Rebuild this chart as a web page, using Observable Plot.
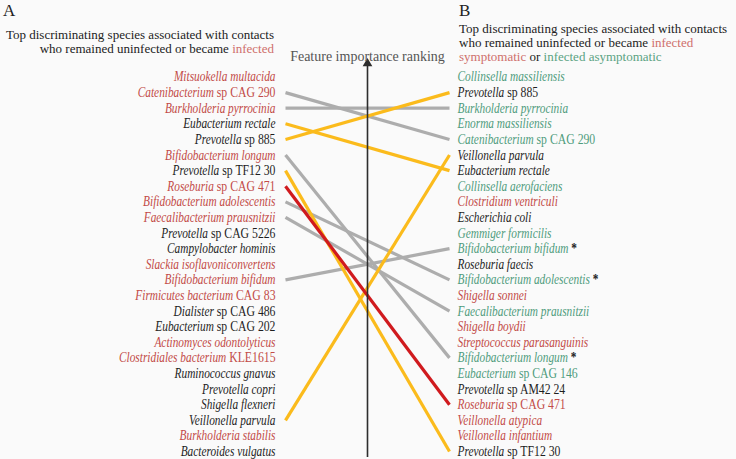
<!DOCTYPE html>
<html>
<head>
<meta charset="utf-8">
<script src="https://cdn.jsdelivr.net/npm/d3@7"></script>
<script src="https://cdn.jsdelivr.net/npm/@observablehq/plot@0.6"></script>
<style>
  html, body { margin: 0; padding: 0; background: #fafafa; }
  #wrap { position: relative; width: 736px; height: 459px; font-family: "Liberation Serif", serif; color: #222; }
  #wrap svg { position: absolute; left: 0; top: 0; }
  .hdr { position: absolute; font-size: 17px; line-height: 17px; }
  .ttl { position: absolute; font-size: 13px; line-height: 14px; white-space: nowrap; }
  .red { color: #cf6f6b; }
  .grn { color: #5aa383; }
</style>
</head>
<body>
<div id="wrap">
  <div class="hdr" style="left:3px; top:2px;">A</div>
  <div class="ttl" style="right:462px; top:28px; text-align:right;">Top discriminating species associated with contacts<br>who remained uninfected or became <span class="red">infected</span></div>
  <div class="hdr" style="left:459px; top:2px;">B</div>
  <div class="ttl" style="left:459px; top:22px;">Top discriminating species associated with contacts<br>who remained uninfected or became <span class="red">infected</span><br><span class="red">symptomatic</span> or <span class="grn">infected asymptomatic</span></div>
</div>
<script>
// Left ranking (A): "|" separates italic genus/species from roman suffix
const leftSpecies = [
  "Mitsuokella multacida", "Catenibacterium|sp CAG 290", "Burkholderia pyrrocinia",
  "Eubacterium rectale", "Prevotella|sp 885", "Bifidobacterium longum",
  "Prevotella|sp TF12 30", "Roseburia|sp CAG 471", "Bifidobacterium adolescentis",
  "Faecalibacterium prausnitzii", "Prevotella|sp CAG 5226", "Campylobacter hominis",
  "Slackia isoflavoniconvertens", "Bifidobacterium bifidum", "Firmicutes bacterium|CAG 83",
  "Dialister|sp CAG 486", "Eubacterium|sp CAG 202", "Actinomyces odontolyticus",
  "Clostridiales bacterium|KLE1615", "Ruminococcus gnavus", "Prevotella copri",
  "Shigella flexneri", "Veillonella parvula", "Burkholderia stabilis", "Bacteroides vulgatus"
];
const leftGroups = [
  "infected", "infected", "infected", "uninfected", "uninfected", "infected",
  "uninfected", "infected", "infected", "infected", "uninfected", "uninfected",
  "infected", "infected", "infected", "uninfected", "uninfected", "infected",
  "infected", "uninfected", "uninfected", "uninfected", "uninfected", "infected", "uninfected"
];
// Right ranking (B): trailing "*" marks starred species
const rightSpecies = [
  "Collinsella massiliensis", "Prevotella|sp 885", "Burkholderia pyrrocinia",
  "Enorma massiliensis", "Catenibacterium|sp CAG 290", "Veillonella parvula",
  "Eubacterium rectale", "Collinsella aerofaciens", "Clostridium ventriculi",
  "Escherichia coli", "Gemmiger formicilis", "Bifidobacterium bifidum*",
  "Roseburia faecis", "Bifidobacterium adolescentis*", "Shigella sonnei",
  "Faecalibacterium prausnitzii", "Shigella boydii", "Streptococcus parasanguinis",
  "Bifidobacterium longum*", "Eubacterium|sp CAG 146", "Prevotella|sp AM42 24",
  "Roseburia|sp CAG 471", "Veillonella atypica", "Veillonella infantium", "Prevotella|sp TF12 30"
];
const rightGroups = [
  "asymptomatic", "uninfected", "asymptomatic", "asymptomatic", "asymptomatic", "uninfected",
  "uninfected", "asymptomatic", "symptomatic", "uninfected", "asymptomatic", "asymptomatic",
  "uninfected", "asymptomatic", "symptomatic", "asymptomatic", "symptomatic", "symptomatic",
  "asymptomatic", "asymptomatic", "uninfected", "symptomatic", "symptomatic", "symptomatic", "uninfected"
];
// Links between the two rankings (1-based ranks)
const linkLeftRank  = [2, 3, 4, 5, 6, 7, 8, 9, 10, 14, 23];
const linkRightRank = [5, 3, 7, 2, 19, 25, 22, 14, 16, 12, 6];
const linkKind = ["grey", "grey", "gold", "gold", "grey", "gold", "red", "grey", "grey", "grey", "gold"];
const axisTitle = "Feature importance ranking";

const FONT = "'Liberation Serif', serif";
const textColor = { infected: "#c24a47", symptomatic: "#c24a47", asymptomatic: "#4f9c7d", uninfected: "#1e1e1e" };
const linkColor = { grey: "#adadad", gold: "#fbbb1c", red: "#d01a1e" };

const leftRows = leftSpecies.map((name, i) => ({ name, rank: i + 1, group: leftGroups[i] }));
const rightRows = rightSpecies.map((name, i) => ({ name, rank: i + 1, group: rightGroups[i] }));
const links = linkLeftRank.map((l, i) => ({ l, r: linkRightRank[i], kind: linkKind[i] }));
const order = { grey: 0, gold: 1, red: 2 };
links.sort((a, b) => order[a.kind] - order[b.kind]);

const fig = Plot.plot({
  width: 736, height: 459,
  marginLeft: 0, marginRight: 0, marginTop: 62, marginBottom: 2,
  x: { domain: [0, 1], range: [285, 449], axis: null },
  y: { domain: [1, 25], range: [76.5, 451], axis: null },
  color: { type: "identity" },
  style: { fontFamily: FONT, background: "transparent", overflow: "visible" },
  marks: [
    Plot.link(links, { x1: () => 0, x2: () => 1, y1: "l", y2: "r", stroke: d => linkColor[d.kind], strokeWidth: 3.2 }),
    Plot.ruleX([0.5], { stroke: "#2d2d2d", strokeWidth: 1.6 }),
    Plot.dot([0.5], { x: d => d, frameAnchor: "top", dy: 1, symbol: "triangle", r: 3.6, fill: "#2d2d2d", stroke: "none" }),
    Plot.text(leftRows, { x: () => 0, y: "rank", text: "name", textAnchor: "end", dx: -10, fill: d => textColor[d.group], fontSize: 14, fontStyle: "italic", fontFamily: FONT }),
    Plot.text(rightRows, { x: () => 1, y: "rank", text: "name", textAnchor: "start", dx: 8, fill: d => textColor[d.group], fontSize: 14, fontStyle: "italic", fontFamily: FONT }),
    Plot.text([axisTitle], { x: () => 0.5, frameAnchor: "top", dy: -11, text: d => d, fill: "#555", fontSize: 14, fontFamily: FONT })
  ]
});

// Mixed italic / roman labels, asterisks and a narrower (Garamond-like) set width
const ns = "http://www.w3.org/2000/svg";
const SX = 0.81;
fig.querySelectorAll("text").forEach(t => {
  let s = t.textContent;
  if (s === axisTitle) return;
  const tr = t.getAttribute("transform") || "";
  if (t.hasAttribute("x")) {
    const x = t.getAttribute("x"), y = t.getAttribute("y") || 0;
    t.removeAttribute("x"); t.removeAttribute("y");
    t.setAttribute("transform", `${tr} translate(${x},${y}) scale(${SX},1)`);
  } else {
    t.setAttribute("transform", `${tr} scale(${SX},1)`);
  }
  if (!s.includes("|") && !s.endsWith("*")) return;
  const star = s.endsWith("*");
  if (star) s = s.slice(0, -1);
  const parts = s.split("|");
  t.textContent = "";
  const a = document.createElementNS(ns, "tspan");
  a.textContent = parts[0];
  t.appendChild(a);
  if (parts.length > 1) {
    const b = document.createElementNS(ns, "tspan");
    b.setAttribute("font-style", "normal");
    b.setAttribute("font-size", "14.5");
    b.textContent = " " + parts[1];
    t.appendChild(b);
  }
  if (star) {
    const c = document.createElementNS(ns, "tspan");
    c.setAttribute("font-style", "normal");
    c.setAttribute("font-weight", "bold");
    c.setAttribute("fill", "#222");
    c.textContent = " *";
    t.appendChild(c);
  }
});

document.getElementById("wrap").prepend(fig);
</script>
</body>
</html>
